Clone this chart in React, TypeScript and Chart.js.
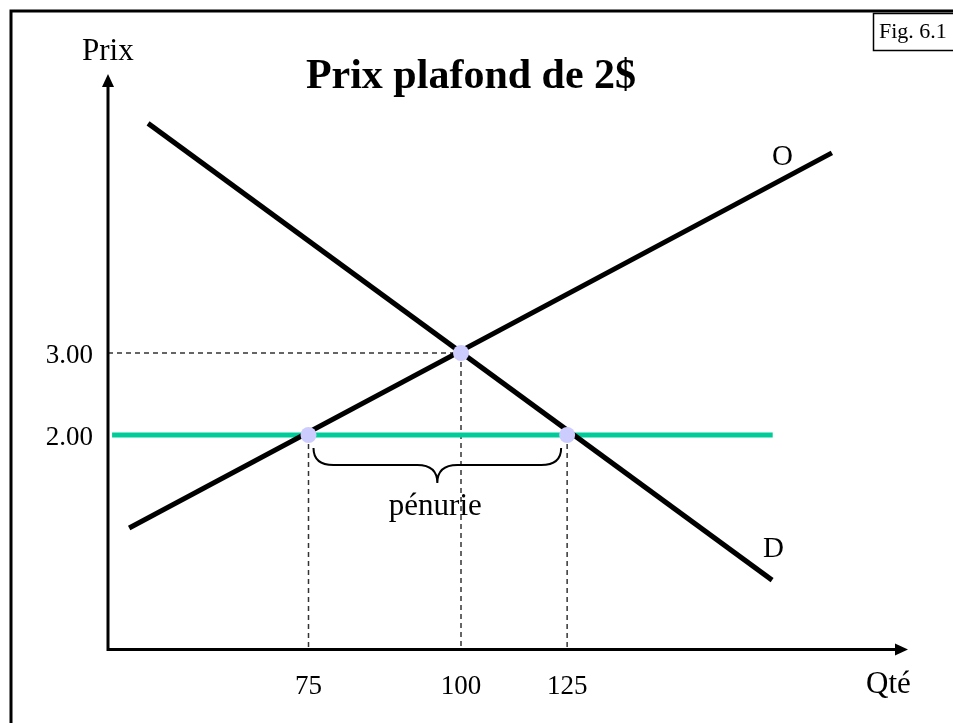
import React, { useEffect, useRef } from "react";
import { Chart, registerables } from "chart.js";

Chart.register(...registerables);

// ---- data (schematic price-ceiling diagram) ----
const title = "Prix plafond de 2$";
const yAxisLabel = "Prix";
const xAxisLabel = "Qté";
const figLabel = "Fig. 6.1";
const shortageLabel = "pénurie";

// quantity positions on the schematic axis, and the labels printed under them
const qtyTickValues = [75, 100, 117.4];
const qtyTickLabels = ["75", "100", "125"];
const priceTickValues = [3, 2];
const priceTickLabels = ["3.00", "2.00"];

// axis ranges (schematic)
const qtyMin = 42.13;
const qtyMax = 173.28;
const priceMin = -0.616;
const priceMax = 6.402;

// supply curve "O"
const supplyQty = [45.6, 160.8];
const supplyPrice = [0.866, 5.44];
// demand curve "D"
const demandQty = [48.7, 151.0];
const demandPrice = [5.8, 0.23];
// price ceiling at 2$
const ceilingQty = [42.8, 151.1];
const ceilingPrice = [2, 2];
// key points: supply at ceiling, equilibrium, demand at ceiling
const keyQty = [75, 100, 117.4];
const keyPrice = [2, 3, 2];

const GREEN = "#00cc99";
const FONT = '"Liberation Serif", "Times New Roman", serif';

const toPts = (xs: number[], ys: number[]) => xs.map((x, i) => ({ x, y: ys[i] }));

export default function App() {
  const ref = useRef<HTMLCanvasElement | null>(null);

  useEffect(() => {
    const canvas = ref.current;
    if (!canvas) return;

    const decor = {
      id: "decor",
      afterDatasetsDraw(chart: any) {
        const ctx = chart.ctx as CanvasRenderingContext2D;
        const xs = chart.scales.x;
        const ys = chart.scales.y;
        const ca = chart.chartArea;
        const W = chart.width;
        const H = chart.height;
        ctx.save();

        // outer frame (top + left)
        ctx.strokeStyle = "#000";
        ctx.lineWidth = 3;
        ctx.beginPath();
        ctx.moveTo(11, H);
        ctx.lineTo(11, 11);
        ctx.lineTo(W, 11);
        ctx.stroke();

        // fig box
        ctx.lineWidth = 1.5;
        ctx.strokeRect(873.5, 13.5, 100, 37);
        ctx.fillStyle = "#000";
        ctx.font = `22px ${FONT}`;
        ctx.textAlign = "left";
        ctx.textBaseline = "alphabetic";
        ctx.fillText(figLabel, 879, 38);

        // axes
        const ax = ca.left;
        const ay = ca.bottom;
        ctx.lineWidth = 3;
        ctx.beginPath();
        ctx.moveTo(ax, ay + 1.5);
        ctx.lineTo(ax, ca.top + 10);
        ctx.moveTo(ax - 1.5, ay);
        ctx.lineTo(ca.right - 10, ay);
        ctx.stroke();
        // arrow heads
        ctx.beginPath();
        ctx.moveTo(ax, ca.top);
        ctx.lineTo(ax - 6, ca.top + 13);
        ctx.lineTo(ax + 6, ca.top + 13);
        ctx.closePath();
        ctx.fill();
        ctx.beginPath();
        ctx.moveTo(ca.right, ay);
        ctx.lineTo(ca.right - 13, ay - 6);
        ctx.lineTo(ca.right - 13, ay + 6);
        ctx.closePath();
        ctx.fill();

        // tick labels
        ctx.font = `27px ${FONT}`;
        ctx.textAlign = "center";
        qtyTickValues.forEach((v, i) => {
          ctx.fillText(qtyTickLabels[i], xs.getPixelForValue(v), 694);
        });
        ctx.textAlign = "right";
        priceTickValues.forEach((v, i) => {
          ctx.fillText(priceTickLabels[i], 93, ys.getPixelForValue(v) + 10);
        });

        // axis names
        ctx.font = `31px ${FONT}`;
        ctx.textAlign = "left";
        ctx.fillText(yAxisLabel, 82, 60);
        ctx.fillText(xAxisLabel, 866, 693);

        // curve names
        ctx.font = `29px ${FONT}`;
        ctx.fillText("O", 772, 165);
        ctx.fillText("D", 763, 557);

        // title
        ctx.font = `bold 42px ${FONT}`;
        ctx.textAlign = "center";
        ctx.fillText(title, 471, 88);

        // brace under shortage
        const L = xs.getPixelForValue(keyQty[0]) + 5;
        const R = xs.getPixelForValue(keyQty[2]) - 6;
        const C = (L + R) / 2;
        const top = ys.getPixelForValue(ceilingPrice[0]) + 13;
        const mid = top + 17;
        const tip = mid + 18;
        const r = 20;
        ctx.lineWidth = 2;
        ctx.beginPath();
        ctx.moveTo(L, top);
        ctx.quadraticCurveTo(L, mid, L + r, mid);
        ctx.lineTo(C - r, mid);
        ctx.quadraticCurveTo(C, mid, C, tip);
        ctx.quadraticCurveTo(C, mid, C + r, mid);
        ctx.lineTo(R - r, mid);
        ctx.quadraticCurveTo(R, mid, R, top);
        ctx.stroke();

        ctx.font = `31px ${FONT}`;
        ctx.textAlign = "center";
        ctx.fillText(shortageLabel, C - 2, 515);

        ctx.restore();
      },
    };

    const guide = {
      showLine: true,
      borderColor: "#333",
      borderWidth: 1.5,
      borderDash: [5, 4],
      pointRadius: 0,
      order: 4,
    };

    const chart = new Chart(canvas, {
      type: "scatter",
      data: {
        datasets: [
          {
            label: "points",
            data: toPts(keyQty, keyPrice),
            pointRadius: 8,
            pointBackgroundColor: "#ccccff",
            pointBorderWidth: 0,
            showLine: false,
            order: 0,
          } as any,
          {
            label: "O",
            data: toPts(supplyQty, supplyPrice),
            showLine: true,
            borderColor: "#000",
            borderWidth: 5,
            pointRadius: 0,
            order: 1,
          },
          {
            label: "D",
            data: toPts(demandQty, demandPrice),
            showLine: true,
            borderColor: "#000",
            borderWidth: 5,
            pointRadius: 0,
            order: 1,
          },
          {
            label: "plafond",
            data: toPts(ceilingQty, ceilingPrice),
            showLine: true,
            borderColor: GREEN,
            borderWidth: 5,
            pointRadius: 0,
            order: 2,
          },
          { ...guide, label: "g1", data: [{ x: qtyMin, y: keyPrice[1] }, { x: keyQty[1], y: keyPrice[1] }] },
          { ...guide, label: "g2", data: [{ x: keyQty[1], y: keyPrice[1] }, { x: keyQty[1], y: priceMin }] },
          { ...guide, label: "g3", data: [{ x: keyQty[0], y: keyPrice[0] }, { x: keyQty[0], y: priceMin }] },
          { ...guide, label: "g4", data: [{ x: keyQty[2], y: keyPrice[2] }, { x: keyQty[2], y: priceMin }] },
        ] as any,
      },
      options: {
        animation: false,
        responsive: false,
        devicePixelRatio: 1,
        layout: { padding: { left: 108, top: 74, right: 45, bottom: 73.5 } },
        plugins: { legend: { display: false }, tooltip: { enabled: false }, title: { display: false } },
        scales: {
          x: { type: "linear", min: qtyMin, max: qtyMax, display: false },
          y: { type: "linear", min: priceMin, max: priceMax, display: false },
        },
        elements: { line: { tension: 0, borderCapStyle: "butt" } },
        events: [],
      },
      plugins: [decor],
    });

    return () => chart.destroy();
  }, []);

  return (
    <div style={{ position: "absolute", left: 0, top: 0, width: 953, height: 723, background: "#fff" }}>
      <canvas ref={ref} width={953} height={723} style={{ display: "block", width: 953, height: 723 }} />
    </div>
  );
}
